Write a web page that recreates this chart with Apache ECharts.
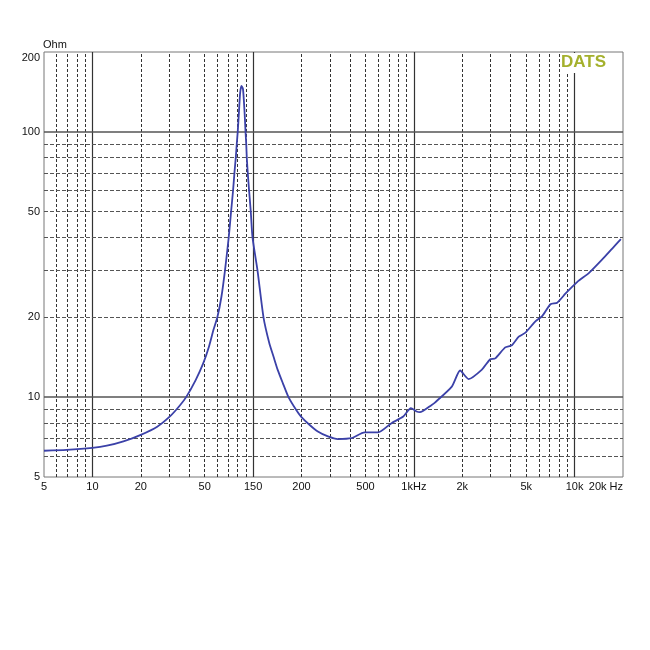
<!DOCTYPE html>
<html>
<head>
<meta charset="utf-8">
<script src="https://cdn.jsdelivr.net/npm/echarts@6/dist/echarts.min.js"></script>
<style>
  html, body { margin: 0; padding: 0; background: #fff; }
  #chart { width: 650px; height: 650px; }
</style>
</head>
<body>
<div id="chart"></div>
<script>
// impedance curve (Hz, Ohm)
var freq = [5, 6.9, 10, 12.3, 15.6, 20, 25.3, 30.6, 35, 38.3, 43.9, 48.9, 53.1, 56.6, 59.9,
    63.5, 66.8, 70.5, 72.9, 75.0, 76.5, 78.0, 79.1, 80.2, 81.7, 83, 84.6, 86.5, 88.5, 89.7,
    90.6, 91.3, 92.6, 94.4, 96.7, 99.1, 106.5, 116, 126, 134, 142, 153, 166, 185, 198.6, 224, 252.6,
    292, 337, 408, 494, 599, 726, 859, 958, 1040, 1090, 1291, 1352, 1722, 1940, 2188,
    2650, 2985, 3210, 3700, 4075, 4494, 4944, 5700, 6283, 7080, 7796, 8790, 10400,
    12300, 14900, 17200, 19400];
var ohm = [6.28, 6.33, 6.44, 6.56, 6.81, 7.21, 7.74, 8.5, 9.3, 10, 11.6, 13.4, 15.5, 17.9, 20,
    23.9, 30, 40, 50, 60, 70, 80, 90, 100, 120, 140, 149, 145, 118, 100,
    90, 80, 70, 60, 50, 40, 30, 20, 16, 14.2, 12.7, 11.3, 10, 8.96, 8.45, 7.87, 7.42,
    7.11, 6.95, 7.0, 7.36, 7.36, 7.98, 8.45, 9.09, 8.83, 8.78, 9.35, 9.54, 10.96, 12.6, 11.7,
    12.7, 13.9, 14.0, 15.4, 15.7, 16.9, 17.5, 19.3, 20.2, 22.4, 22.7, 24.6, 27.2,
    29.4, 33.1, 36.4, 39.4];

// grid lines
var xMajor = [10, 100, 1000, 10000];
var xMinor = [6, 7, 8, 9, 20, 30, 40, 50, 60, 70, 80, 90,
    200, 300, 400, 500, 600, 700, 800, 900,
    2000, 3000, 4000, 5000, 6000, 7000, 8000, 9000];
var yMajor = [10, 100];
var yMinor = [6, 7, 8, 9, 20, 30, 40, 50, 60, 70, 80, 90];

// tick labels
var xTickVals = [5, 10, 20, 50, 100, 200, 500, 1000, 2000, 5000, 10000, 20000];
var xTickText = ['5', '10', '20', '50', '150', '200', '500', '1kHz', '2k', '5k', '10k', '20k Hz'];
var yTickVals = [5, 10, 20, 50, 100, 200];
var yTickText = ['5', '10', '20', '50', '100', '200'];

var X_MIN = 5, X_MAX = 20000, Y_MIN = 5, Y_MAX = 200;

function pickLabel(vals, texts) {
    return function (v) {
        for (var i = 0; i < vals.length; i++) {
            if (Math.abs(Math.log10(vals[i]) - v) < 1e-6) return texts[i];
        }
        return '';
    };
}

var labelFont = { fontFamily: 'Liberation Sans, Arial, sans-serif', fontSize: 11, color: '#111' };

var gridLines = [];
xMajor.forEach(function (v) {
    gridLines.push({ xAxis: v, lineStyle: { color: '#333', width: 1.2, type: 'solid' } });
});
xMinor.forEach(function (v) {
    gridLines.push({ xAxis: v, lineStyle: { color: '#333', width: 1, type: [3, 2] } });
});
yMajor.forEach(function (v) {
    gridLines.push({ yAxis: v, lineStyle: { color: '#555', width: 1.5, type: 'solid' } });
});
yMinor.forEach(function (v) {
    gridLines.push({ yAxis: v, lineStyle: { color: '#555', width: 1, type: [4, 2] } });
});

var curve = freq.map(function (f, i) { return [f, ohm[i]]; });

var chart = echarts.init(document.getElementById('chart'));
chart.setOption({
    animation: false,
    backgroundColor: '#fff',
    grid: {
        left: 44, right: 27, top: 52, bottom: 173,
        show: true, borderColor: '#777', borderWidth: 1, backgroundColor: 'transparent'
    },
    xAxis: [{
        type: 'log', logBase: 10, min: X_MIN, max: X_MAX,
        axisLine: { show: false }, axisTick: { show: false },
        axisLabel: { show: false }, splitLine: { show: false }
    }, {
        // labels only, on log10 of frequency
        type: 'value', min: Math.log10(X_MIN), max: Math.log10(X_MAX),
        position: 'bottom',
        axisLine: { show: false }, axisTick: { show: false }, splitLine: { show: false },
        axisLabel: Object.assign({
            customValues: xTickVals.map(Math.log10),
            formatter: pickLabel(xTickVals, xTickText),
            margin: 4,
            alignMaxLabel: 'right'
        }, labelFont)
    }],
    yAxis: [{
        type: 'log', logBase: 10, min: Y_MIN, max: Y_MAX,
        axisLine: { show: false }, axisTick: { show: false },
        axisLabel: { show: false }, splitLine: { show: false }
    }, {
        type: 'value', min: Math.log10(Y_MIN), max: Math.log10(Y_MAX),
        position: 'left',
        axisLine: { show: false }, axisTick: { show: false }, splitLine: { show: false },
        axisLabel: Object.assign({
            customValues: yTickVals.map(Math.log10),
            formatter: pickLabel(yTickVals, yTickText),
            margin: 4,
            verticalAlignMaxLabel: 'top'
        }, labelFont)
    }],
    graphic: [{
        type: 'text', left: 43, top: 39, z: 100,
        style: { text: 'Ohm', font: '11px "Liberation Sans", Arial, sans-serif', fill: '#111' }
    }, {
        type: 'rect', z: 99,
        shape: { x: 560, y: 53, width: 55, height: 20 },
        style: { fill: '#fff' }
    }, {
        type: 'text', left: 561, top: 54, z: 100,
        style: { text: 'DATS', font: 'bold 17px "Liberation Sans", Arial, sans-serif', fill: '#a4b02c' }
    }],
    series: [{
        // grid lines drawn through the log axes
        type: 'line', xAxisIndex: 0, yAxisIndex: 0, z: 1,
        data: curve, showSymbol: false, silent: true,
        lineStyle: { opacity: 0 },
        markLine: {
            silent: true, symbol: 'none', animation: false,
            label: { show: false },
            data: gridLines
        }
    }, {
        name: 'impedance',
        type: 'line', xAxisIndex: 0, yAxisIndex: 0, z: 5,
        data: curve, showSymbol: false,
        smooth: 0.2,
        lineStyle: { color: '#3b41a8', width: 1.8 }
    }]
});
</script>
</body>
</html>
